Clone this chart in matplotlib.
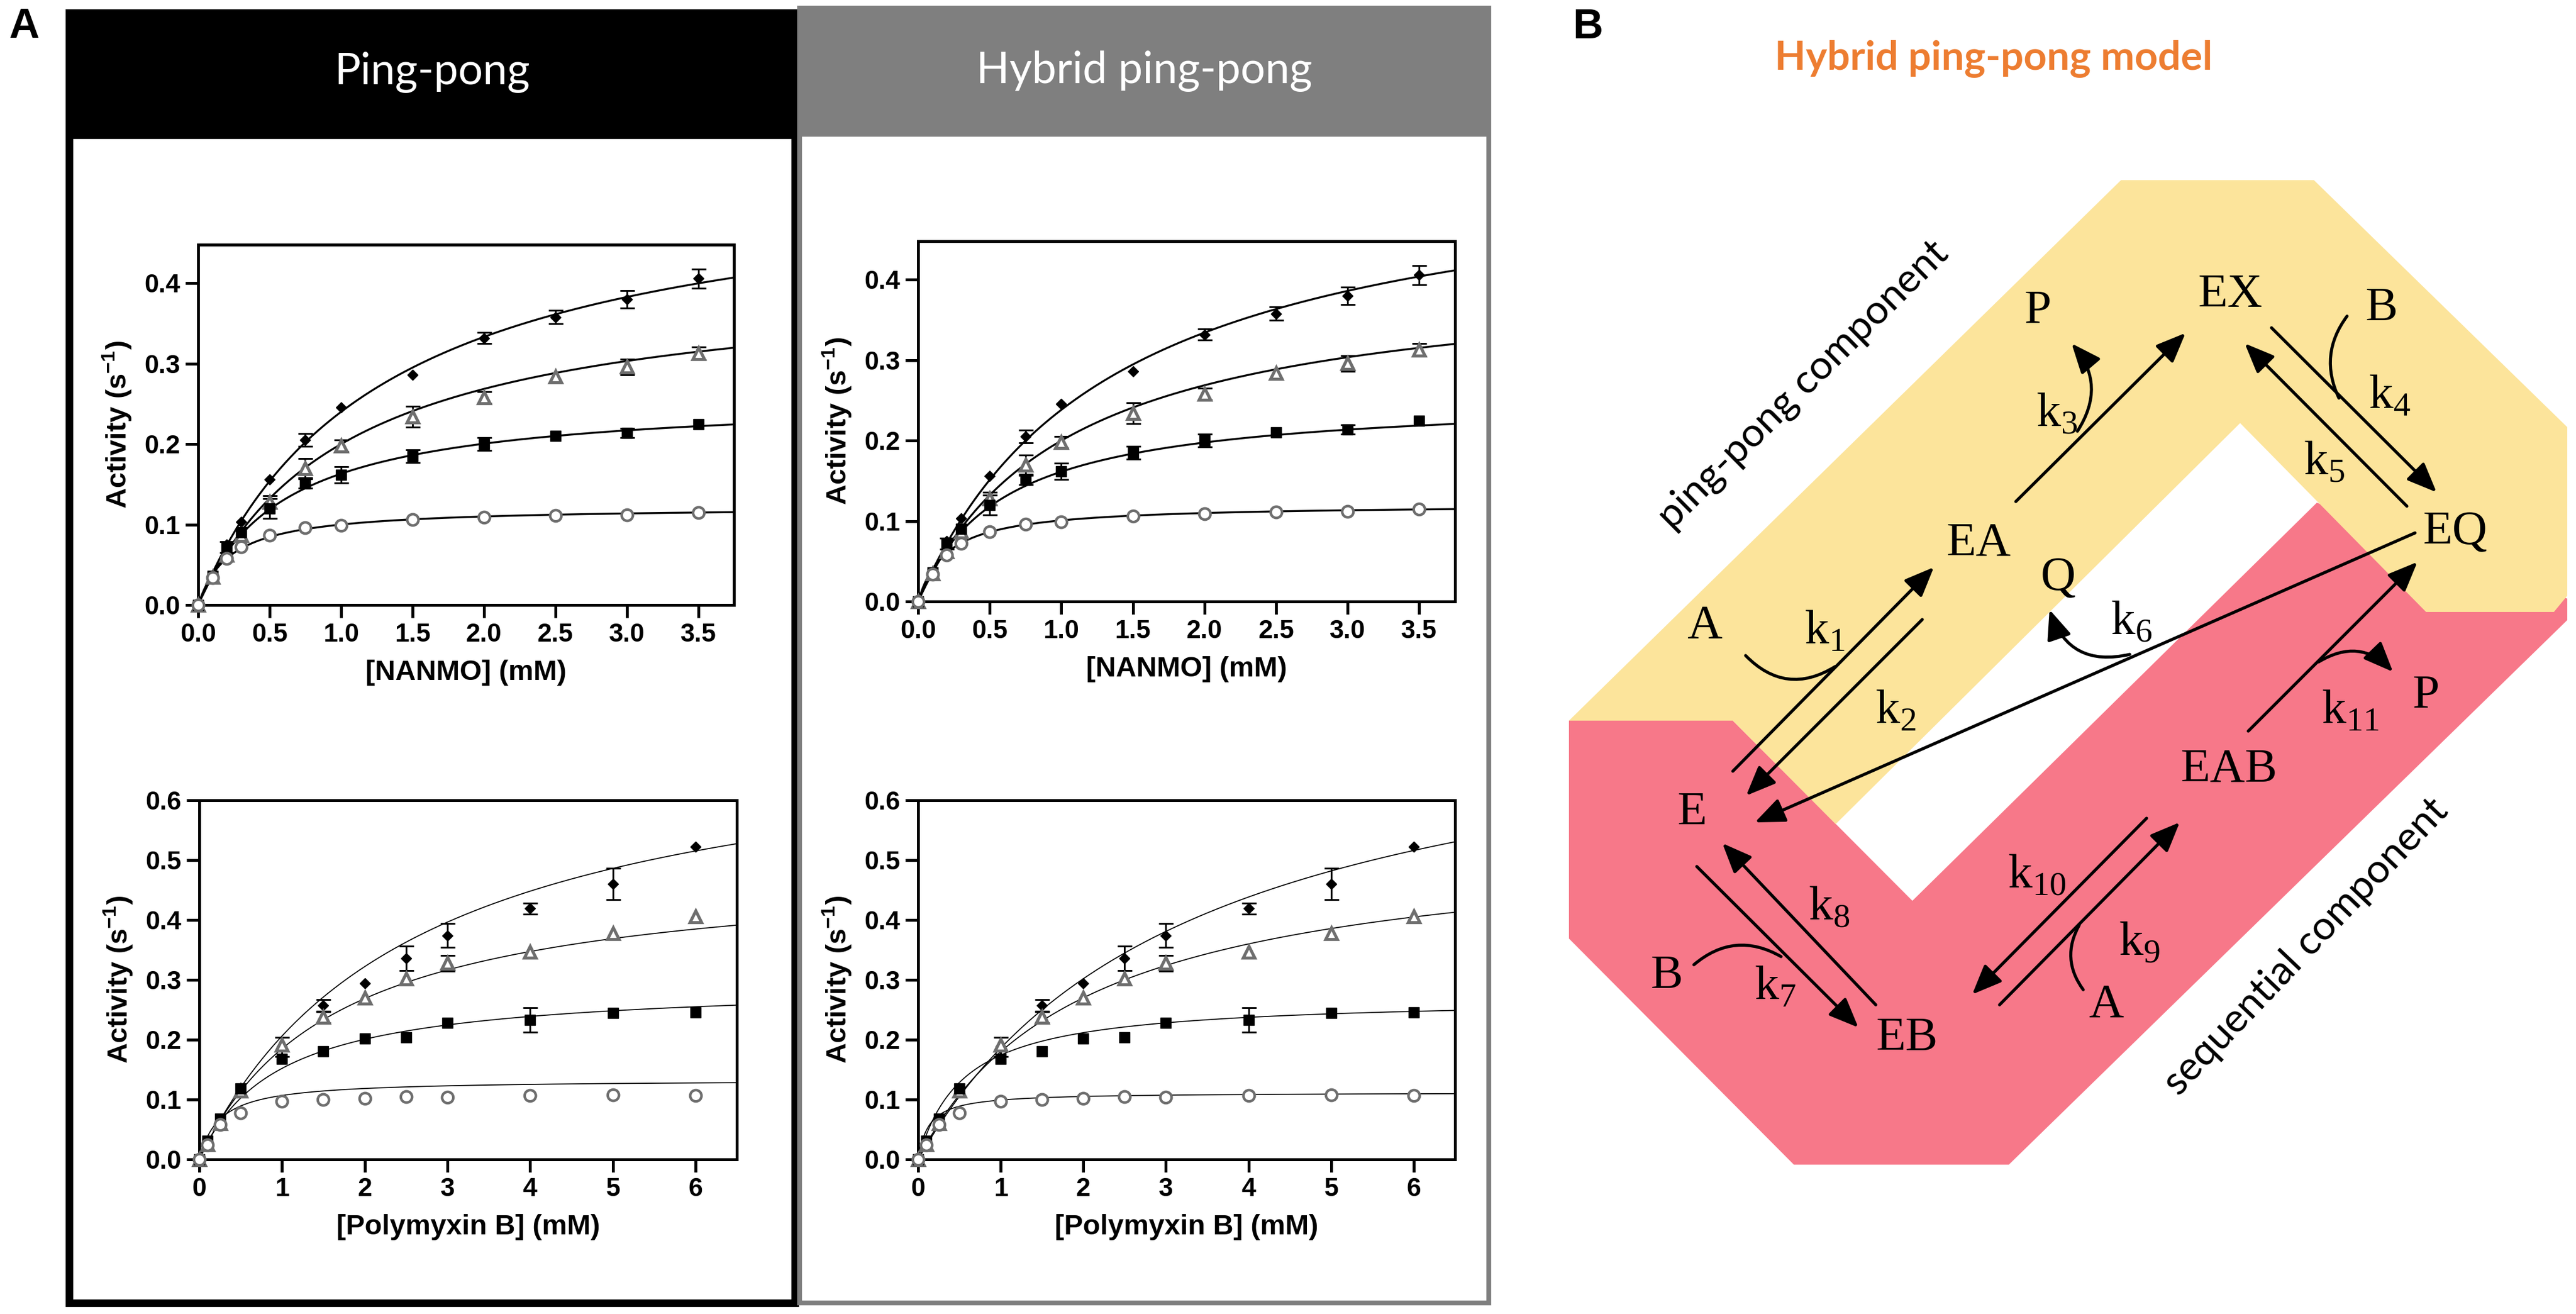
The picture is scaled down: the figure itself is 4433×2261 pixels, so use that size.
import numpy as np
import matplotlib
matplotlib.use("Agg")
import matplotlib.pyplot as plt
from matplotlib.patches import Rectangle, Polygon

plt.rcParams['font.family'] = 'Liberation Sans'
plt.rcParams['mathtext.fontset'] = 'custom'
plt.rcParams['mathtext.rm'] = 'Liberation Serif'
plt.rcParams['mathtext.bf'] = 'Liberation Sans:bold'

# ---- data ----
nanmo = [0, 0.1, 0.2, 0.3, 0.5, 0.75, 1.0, 1.5, 2.0, 2.5, 3.0, 3.5]
nanmo_diamond = [0, 0.037, 0.075, 0.103, 0.156, 0.205, 0.246, 0.286, 0.332, 0.358, 0.380, 0.406]
nanmo_diamond_err = [0, 0, 0, 0, 0, 0.008, 0, 0, 0.007, 0.008, 0.011, 0.012]
nanmo_triangle = [0, 0.035, 0.062, 0.087, 0.128, 0.170, 0.198, 0.234, 0.258, 0.284, 0.296, 0.313]
nanmo_triangle_err = [0, 0, 0, 0, 0.008, 0.012, 0.007, 0.013, 0.007, 0, 0.010, 0.008]
nanmo_square = [0, 0.036, 0.072, 0.090, 0.120, 0.151, 0.162, 0.185, 0.200, 0.210, 0.214, 0.225]
nanmo_square_err = [0, 0, 0.007, 0, 0.012, 0.006, 0.010, 0.008, 0.008, 0, 0.006, 0]
nanmo_circle = [0, 0.034, 0.058, 0.072, 0.087, 0.096, 0.099, 0.106, 0.109, 0.111, 0.112, 0.115]
nanmo_circle_err = [0] * 12

polymyxin = [0, 0.1, 0.25, 0.5, 1, 1.5, 2, 2.5, 3, 4, 5, 6]
poly_diamond = [0, 0.030, 0.065, 0.115, 0.188, 0.257, 0.294, 0.336, 0.374, 0.419, 0.460, 0.522]
poly_diamond_err = [0, 0, 0, 0, 0.016, 0.010, 0, 0.020, 0.020, 0.009, 0.026, 0]
poly_triangle = [0, 0.025, 0.060, 0.115, 0.191, 0.238, 0.270, 0.302, 0.328, 0.347, 0.378, 0.406]
poly_triangle_err = [0, 0, 0, 0, 0, 0.010, 0, 0, 0.013, 0, 0, 0]
poly_square = [0, 0.031, 0.068, 0.118, 0.168, 0.181, 0.202, 0.204, 0.228, 0.233, 0.245, 0.246]
poly_square_err = [0, 0, 0, 0, 0, 0, 0, 0, 0, 0.020, 0, 0]
poly_circle = [0, 0.024, 0.058, 0.078, 0.097, 0.100, 0.102, 0.105, 0.104, 0.107, 0.108, 0.107]
poly_circle_err = [0] * 12

# fitted (Vmax, Km) for each series: diamond, triangle, square, circle
fit_pp_nanmo = [(0.545, 1.27), (0.409, 1.045), (0.26, 0.593), (0.1223, 0.223)]
fit_hy_nanmo = [(0.56, 1.35), (0.41, 1.05), (0.255, 0.58), (0.121, 0.20)]
fit_pp_poly = [(0.736, 2.57), (0.491, 1.655), (0.295, 0.94), (0.133, 0.245)]
fit_hy_poly = [(0.80, 3.3), (0.54, 2.0), (0.27, 0.55), (0.112, 0.13)]

nanmo_ticks = [0, 0.5, 1.0, 1.5, 2.0, 2.5, 3.0, 3.5]
nanmo_yticks = [0, 0.1, 0.2, 0.3, 0.4]
poly_ticks = [0, 1, 2, 3, 4, 5, 6]
poly_yticks = [0, 0.1, 0.2, 0.3, 0.4, 0.5, 0.6]

W, H = 4433, 2261
fig = plt.figure(figsize=(W / 100, H / 100), dpi=100)
bg = fig.add_axes([0, 0, 1, 1])
bg.set_xlim(0, W)
bg.set_ylim(H, 0)
bg.axis('off')

styles = [dict(marker='D', mfc='black', mec='black', ms=9.5),
          dict(marker='^', mfc='white', mec='#6e6e6e', ms=15, mew=3.8),
          dict(marker='s', mfc='black', mec='black', ms=13),
          dict(marker='o', mfc='white', mec='#6e6e6e', ms=14, mew=3.2)]


def mm(x, vmax, km):
    return vmax * x / (km + x)


def kinetics(rect, x, ys, errs, fits, xmax, ymax, xticks, xlabels, yticks, xlabel, fit_lw):
    l, t, r, b = rect
    ax = fig.add_axes([l / W, 1 - b / H, (r - l) / W, (b - t) / H])
    xx = np.linspace(0, xmax, 400)
    for vm, km in fits:
        ax.plot(xx, mm(xx, vm, km), color='black', lw=fit_lw, zorder=2)
    x = np.array(x)
    for y, e, st in zip(ys, errs, styles):
        y, e = np.array(y), np.array(e)
        m = e > 0
        if m.any():
            ax.errorbar(x[m], y[m], yerr=e[m], fmt='none', ecolor='black', elinewidth=2.2,
                        capsize=9, capthick=2.2, zorder=3)
        ax.plot(x, y, linestyle='none', clip_on=False, zorder=4, **st)
    ax.set_xlim(0, xmax)
    ax.set_ylim(0, ymax)
    for s in ax.spines.values():
        s.set_linewidth(3.6)
    ax.tick_params(direction='out', length=16, width=3.6, pad=6)
    ax.set_xticks(xticks, xlabels, fontsize=32, fontweight='bold')
    ax.set_yticks(yticks, ['%.1f' % v for v in yticks], fontsize=32, fontweight='bold')
    ax.set_xlabel(xlabel, fontsize=35, fontweight='bold', labelpad=16)
    ax.set_ylabel(r'Activity (s$^{\mathbf{-1}}$)', fontsize=35, fontweight='bold', labelpad=14)
    return ax


# ---- panel A frames ----
bg.add_patch(Rectangle((119, 22), 1249, 216, color='black', zorder=1))
bg.add_patch(Rectangle((119, 22), 1249, 2220, fill=False, edgecolor='black', lw=9.5, zorder=1))
bg.add_patch(Rectangle((1376, 14), 1186, 220, color='#7f7f7f', zorder=1))
bg.add_patch(Rectangle((1376, 14), 1186, 2228, fill=False, edgecolor='#7f7f7f', lw=6, zorder=1))
bg.text(743, 125, 'Ping-pong', color='white', fontsize=54, family='Lato', ha='center', va='center')
bg.text(1969, 122, 'Hybrid ping-pong', color='white', fontsize=54, family='Lato', ha='center', va='center')
bg.text(41, 46, 'A', fontsize=52, fontweight='bold', ha='center', va='center')
bg.text(2732, 47, 'B', fontsize=52, fontweight='bold', ha='center', va='center')

n_ys = [nanmo_diamond, nanmo_triangle, nanmo_square, nanmo_circle]
n_es = [nanmo_diamond_err, nanmo_triangle_err, nanmo_square_err, nanmo_circle_err]
p_ys = [poly_diamond, poly_triangle, poly_square, poly_circle]
p_es = [poly_diamond_err, poly_triangle_err, poly_square_err, poly_circle_err]
n_lab = ['%.1f' % v for v in nanmo_ticks]
p_lab = [str(v) for v in poly_ticks]

kinetics((341, 421, 1263, 1041), nanmo, n_ys, n_es, fit_pp_nanmo, 3.75, 0.448,
         nanmo_ticks, n_lab, nanmo_yticks, '[NANMO] (mM)', 2.4)
kinetics((1580, 415, 2504, 1035), nanmo, n_ys, n_es, fit_hy_nanmo, 3.75, 0.448,
         nanmo_ticks, n_lab, nanmo_yticks, '[NANMO] (mM)', 2.4)
kinetics((343, 1377, 1268, 1995), polymyxin, p_ys, p_es, fit_pp_poly, 6.5, 0.6,
         poly_ticks, p_lab, poly_yticks, '[Polymyxin B] (mM)', 1.3)
kinetics((1580, 1377, 2504, 1995), polymyxin, p_ys, p_es, fit_hy_poly, 6.5, 0.6,
         poly_ticks, p_lab, poly_yticks, '[Polymyxin B] (mM)', 1.3)

# ---- panel B: hybrid ping-pong scheme ----
red_band = [(2700, 1240), (2982, 1240), (3291, 1550), (3987, 865), (4418, 1030),
            (4418, 1067), (3457, 2004), (3087, 2004), (2700, 1615)]
yellow_band = [(2700, 1240), (3650, 310), (3982, 310), (4418, 735), (4418, 1025),
               (4395, 1053), (4175, 1053), (3855, 728), (3159, 1418), (2982, 1240)]
bg.add_patch(Polygon(red_band, closed=True, facecolor='#F77889', edgecolor='none', zorder=1))
bg.add_patch(Polygon(yellow_band, closed=True, facecolor='#FCE49B', edgecolor='none', zorder=1))

bg.text(3431, 101, 'Hybrid ping-pong model', color='#ED7D31', fontsize=50, family='Lato',
        fontweight='bold', ha='center', va='center')
bg.text(3103, 663, 'ping-pong component', fontsize=50, family='Lato', rotation=44.7,
        rotation_mode='anchor', ha='center', va='center')
bg.text(3968, 1629, 'sequential component', fontsize=50, family='Lato', rotation=46.4,
        rotation_mode='anchor', ha='center', va='center')

species = [('EX', 3838, 508), ('P', 3507, 536), ('B', 4098, 531), ('EA', 3405, 936),
           ('EQ', 4225, 917), ('Q', 3542, 996), ('A', 2933, 1078), ('P', 4175, 1198),
           ('EAB', 3836, 1325), ('E', 2912, 1399), ('B', 2868, 1680), ('A', 3624, 1730),
           ('EB', 3282, 1787)]
for name, x, y in species:
    bg.text(x, y, name, family='Liberation Serif', fontsize=60, ha='center', va='center', zorder=3)

rates = [('1', 3140, 1085), ('2', 3262, 1222), ('3', 3540, 712), ('4', 4112, 680),
         ('5', 4000, 795), ('6', 3668, 1070), ('7', 3055, 1697), ('8', 3148, 1560),
         ('9', 3682, 1622), ('10', 3505, 1505), ('11', 4045, 1222)]
for sub, x, y in rates:
    bg.text(x, y, r'$\mathrm{k}_{%s}$' % sub, fontsize=60, ha='center', va='center', zorder=3)

head = '-|>,head_length=0.6,head_width=0.25'
steps = [((2982, 1327), (3328, 976)), ((3308, 1066), (3005, 1369)),
         ((3469, 863), (3761, 573)), ((3909, 564), (4193, 847)),
         ((4142, 871), (3863, 591)), ((4156, 917), (3020, 1415)),
         ((2920, 1491), (3198, 1768)), ((3228, 1729), (2964, 1451)),
         ((3441, 1729), (3751, 1415)), ((3694, 1408), (3394, 1711)),
         ((3869, 1258), (4160, 967))]
for a, b in steps:
    bg.annotate('', xy=b, xytext=a, zorder=3,
                arrowprops=dict(arrowstyle=head, lw=3.8, color='black', mutation_scale=52,
                                shrinkA=0, shrinkB=0))

# substrate binding / product release curves
curves = [((3004, 1128), (3158, 1147), 0.4, False),
          ((3575, 742), (3565, 591), 0.37, True),
          ((4039, 544), (4025, 685), 0.3, False),
          ((3665, 1126), (3527, 1049), -0.45, True),
          ((2915, 1660), (3065, 1646), -0.35, False),
          ((3585, 1703), (3578, 1592), -0.32, False),
          ((3990, 1139), (4118, 1156), -0.4, True)]
for a, b, rad, arrow in curves:
    bg.annotate('', xy=b, xytext=a, zorder=3,
                arrowprops=dict(arrowstyle=head if arrow else '-', lw=3.8, color='black',
                                mutation_scale=52, shrinkA=0, shrinkB=0,
                                connectionstyle='arc3,rad=%s' % rad))

fig.savefig('out.png', dpi=100)
